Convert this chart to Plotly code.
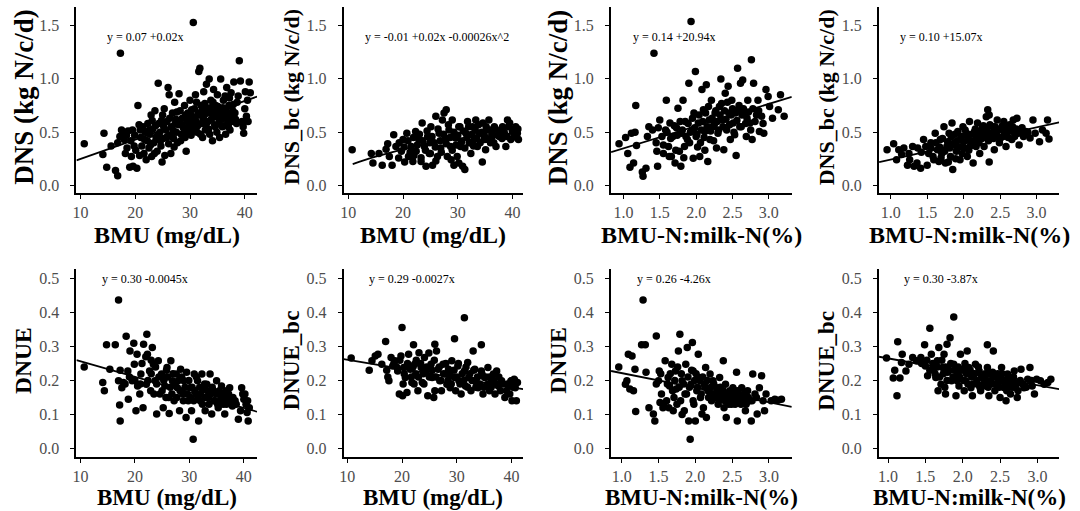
import plotly.graph_objects as go

# ---------------- data ----------------
bmu_dns = [(10.7,0.39),(14.1,0.29),(14.3,0.49),(14.8,0.17),(15.6,0.37),(16.4,0.14),(16.8,0.09),(17.3,1.24),(16.8,0.40),(17.2,0.46),
 (17.5,0.52),(17.8,0.49),(18.0,0.43),(18.2,0.30),(18.5,0.35),(18.7,0.51),(19.0,0.17),(19.3,0.27),(19.6,0.18),(19.8,0.37),(19.9,0.47),(19.5,0.52),
 (20.1,0.33),(20.3,0.16),(20.5,0.75),(20.7,0.57),(20.8,0.28),(21.0,0.45),(21.2,0.37),(21.4,0.55),(21.6,0.30),(21.8,0.50),(22.0,0.24),(22.2,0.42),
 (22.3,0.58),(22.5,0.35),(22.7,0.48),(22.9,0.66),(23.0,0.27),(23.2,0.53),(23.4,0.40),(23.6,0.70),(23.8,0.45),(24.0,0.32),(24.2,0.96),(24.3,0.58),
 (24.5,0.50),(24.7,0.37),(24.9,0.22),(25.0,0.66),(25.1,0.44),(25.3,0.72),(25.4,0.28),(25.6,0.52),(25.8,0.60),(26.0,0.92),(26.1,0.39),(26.2,0.85),
 (26.4,0.47),(26.6,0.55),(26.8,0.68),(27.0,0.44),(27.2,0.78),(27.4,0.62),(27.5,0.50),(27.7,0.40),(27.9,0.57),(28.0,0.86),(28.2,0.70),(28.4,0.48),
 (28.6,0.63),(28.8,0.54),(29.0,0.75),(29.1,0.45),(29.3,0.32),(29.5,0.60),(29.6,0.68),(29.8,0.52),(30.0,0.80),(29.9,0.58),(30.2,0.47),(30.4,0.65),
 (30.6,1.53),(30.7,0.55),(30.8,0.72),(31.0,0.85),(31.1,0.60),(31.3,0.50),(31.5,0.68),(31.6,1.07),(31.8,1.10),(32.0,0.75),(32.1,0.58),(32.3,0.45),
 (32.5,0.88),(32.6,0.66),(32.8,0.52),(33.0,0.95),(33.1,0.72),(33.3,0.60),(33.5,1.00),(33.6,0.48),(33.8,0.80),(34.0,0.68),(34.1,0.42),(34.3,0.90),
 (34.5,0.57),(34.7,0.75),(34.9,0.50),(35.0,0.85),(35.2,0.63),(35.4,0.45),(35.6,1.00),(35.7,0.72),(35.9,0.55),(36.1,0.80),(36.3,0.66),(36.5,0.48),
 (36.7,0.92),(36.9,0.60),(37.1,0.75),(37.3,0.52),(37.5,0.87),(37.8,0.70),(38.0,0.97),(38.3,0.62),(38.6,0.78),(39.0,1.17),(39.2,0.98),(39.5,0.60),
 (39.7,0.55),(39.8,0.49),(40.0,0.72),(40.1,0.88),(40.3,0.65),(40.5,0.80),(40.8,0.97),(41.0,0.87),(40.6,0.60),
 (22.6,0.52),(23.1,0.61),(23.7,0.56),(24.1,0.47),(24.8,0.61),(25.2,0.55),(25.7,0.45),(26.3,0.63),(26.9,0.52),(27.3,0.58),(27.6,0.69),(28.1,0.61),
 (28.5,0.57),(28.9,0.49),(29.2,0.66),(29.7,0.55),(30.1,0.62),(30.3,0.71),(30.5,0.52),(30.9,0.63),(31.2,0.78),(31.4,0.56),(31.7,0.66),(31.9,0.48),
 (32.2,0.70),(32.4,0.62),(32.7,0.77),(32.9,0.57),(33.2,0.68),(33.4,0.53),(33.7,0.73),(33.9,0.62),(34.2,0.78),(34.4,0.65),(34.6,0.55),(34.8,0.70),
 (35.1,0.74),(35.3,0.58),(35.5,0.68),(35.8,0.62),(36.0,0.73),(36.2,0.56),(36.4,0.84),(36.6,0.70),(36.8,0.64),(37.0,0.55),(37.2,0.82),(37.4,0.66),
 (37.6,0.60),(37.9,0.76),(38.2,0.68),(38.5,0.58),(38.8,0.84),(29.4,0.50),(28.3,0.42),(27.1,0.36),(26.5,0.30),(25.9,0.46),(24.6,0.42),(23.5,0.30),
 (22.8,0.38),(21.7,0.43),(20.9,0.52),(19.2,0.42),(18.4,0.47)]

bmu_dnsbc = [(10.7,0.335),(14.2,0.30),(14.5,0.21),(15.6,0.30),(16.2,0.19),(16.9,0.34),(17.2,0.39),(17.5,0.27),(18.0,0.19),(18.3,0.475),
 (18.7,0.365),(19.2,0.256),(19.7,0.32),(20.0,0.43),(20.3,0.22),(20.7,0.49),(21.0,0.27),(21.5,0.365),(21.8,0.225),(22.3,0.505),(22.4,0.32),
 (22.9,0.43),(23.3,0.225),(23.5,0.585),(23.9,0.365),(24.2,0.18),(24.5,0.46),(24.8,0.30),(25.1,0.55),(25.4,0.19),(25.7,0.40),(26.0,0.65),
 (26.3,0.27),(26.6,0.49),(26.9,0.35),(27.2,0.615),(27.5,0.68),(27.7,0.43),(27.9,0.71),(28.1,0.27),(28.4,0.52),(28.7,0.365),(29.0,0.615),
 (29.3,0.19),(29.6,0.445),(29.9,0.27),(30.2,0.55),(30.5,0.365),(30.9,0.18),(31.3,0.15),(31.5,0.49),(31.8,0.60),(32.1,0.40),(32.4,0.30),
 (32.7,0.55),(33.0,0.43),(33.3,0.615),(33.6,0.365),(33.9,0.49),(34.5,0.22),(34.6,0.585),(34.9,0.43),(35.1,0.335),(35.4,0.52),(35.7,0.615),
 (36.0,0.40),(36.3,0.49),(36.7,0.55),(37.0,0.365),(37.6,0.46),(38.2,0.55),(38.8,0.365),(39.1,0.615),(39.5,0.585),(39.7,0.43),(40.0,0.505),
 (40.3,0.46),(40.6,0.55),(40.9,0.49),(41.1,0.43),
 (19.3,0.40),(20.2,0.36),(20.9,0.42),(21.3,0.31),(21.9,0.45),(22.6,0.38),(23.0,0.48),(23.6,0.42),(24.1,0.33),(24.4,0.51),(24.9,0.40),(25.3,0.46),
 (25.9,0.36),(26.4,0.53),(26.8,0.42),(27.0,0.31),(27.4,0.48),(27.9,0.39),(28.3,0.57),(28.6,0.45),(29.0,0.33),(29.3,0.50),(29.7,0.38),(30.0,0.47),
 (30.4,0.55),(30.7,0.41),(31.0,0.51),(31.3,0.35),(31.7,0.45),(32.0,0.55),(32.3,0.40),(32.6,0.48),(32.9,0.37),(33.2,0.52),(33.5,0.44),(33.8,0.57),
 (34.1,0.40),(34.4,0.50),(34.8,0.47),(35.2,0.55),(35.5,0.43),(35.9,0.52),(36.2,0.45),(36.6,0.40),(36.9,0.53),(37.3,0.47),(37.8,0.51),(38.1,0.44),
 (38.5,0.50),(39.0,0.46),(39.3,0.55),(40.2,0.52),(40.8,0.45),(41.0,0.53),(23.3,0.26),(26.0,0.23),(28.8,0.24),(30.2,0.21),(25.0,0.30),(22.0,0.28)]

ratio_dns = [(0.94,0.39),(1.03,0.45),(1.06,0.30),(1.09,0.17),(1.11,0.49),(1.14,0.21),(1.16,0.50),(1.17,0.75),(1.18,0.375),(1.26,0.125),
 (1.27,0.085),(1.31,0.16),(1.33,0.46),(1.35,0.55),(1.42,1.24),(1.46,0.32),(1.47,0.18),(1.48,0.54),(1.50,0.615),(1.53,0.46),(1.55,0.38),
 (1.58,0.52),(1.59,0.80),(1.62,0.365),(1.64,0.585),(1.66,0.27),(1.68,0.46),(1.71,0.21),(1.73,0.54),(1.75,0.725),(1.77,0.32),(1.79,0.18),
 (1.80,0.49),(1.82,0.80),(1.84,0.365),(1.85,0.60),(1.88,0.43),(1.90,0.96),(1.93,1.54),(1.94,0.52),(1.96,0.255),(1.97,0.68),(1.99,1.07),
 (2.00,0.46),(2.03,0.585),(2.05,0.27),(2.06,0.40),(2.08,0.90),(2.10,0.71),(2.12,0.505),(2.14,0.945),(2.16,0.225),(2.18,0.615),(2.19,0.43),
 (2.21,0.80),(2.23,0.55),(2.26,0.68),(2.28,0.35),(2.30,0.49),(2.32,0.74),(2.34,1.00),(2.36,0.615),(2.38,0.335),(2.40,0.865),(2.42,0.52),
 (2.44,0.93),(2.45,0.68),(2.47,0.43),(2.49,0.80),(2.51,0.585),(2.53,0.475),(2.55,0.28),(2.57,1.10),(2.58,0.71),(2.61,0.96),(2.62,0.55),
 (2.64,0.99),(2.67,0.68),(2.69,0.46),(2.71,0.80),(2.74,0.585),(2.76,1.18),(2.77,0.43),(2.79,0.96),(2.83,0.66),(2.85,0.80),(2.87,0.505),
 (2.90,0.65),(2.93,0.49),(2.96,0.90),(2.99,0.835),(3.01,0.74),(3.05,0.63),(3.13,0.71),(3.16,0.85),(3.21,0.65),
 (1.60,0.50),(1.65,0.44),(1.70,0.56),(1.74,0.47),(1.78,0.60),(1.81,0.52),(1.86,0.46),(1.89,0.58),(1.92,0.50),(1.95,0.63),(1.98,0.54),(2.01,0.48),
 (2.04,0.66),(2.07,0.52),(2.09,0.60),(2.11,0.45),(2.13,0.68),(2.15,0.55),(2.17,0.74),(2.20,0.51),(2.22,0.63),(2.25,0.57),(2.27,0.70),(2.29,0.60),
 (2.31,0.52),(2.33,0.66),(2.35,0.77),(2.37,0.55),(2.39,0.70),(2.41,0.62),(2.43,0.78),(2.46,0.57),(2.48,0.66),(2.50,0.72),(2.52,0.50),(2.54,0.68),
 (2.56,0.61),(2.59,0.75),(2.60,0.55),(2.63,0.66),(2.65,0.72),(2.68,0.58),(2.70,0.63),(2.72,0.69),(2.75,0.52),(2.78,0.72),(2.81,0.60),(2.86,0.70),
 (2.92,0.58),(1.55,0.30),(1.63,0.27),(1.72,0.33),(1.83,0.26),(1.91,0.40),(1.45,0.40),(1.40,0.52),(2.02,0.36),(2.24,0.42),(2.12,0.33)]

ratio_dnsbc = [(0.95,0.335),(1.04,0.39),(1.08,0.24),(1.11,0.335),(1.15,0.29),(1.18,0.35),(1.23,0.19),(1.26,0.24),(1.30,0.365),(1.32,0.18),
 (1.36,0.21),(1.41,0.16),(1.45,0.43),(1.48,0.365),(1.50,0.19),(1.52,0.30),(1.55,0.40),(1.58,0.27),(1.61,0.49),(1.64,0.335),(1.66,0.225),
 (1.68,0.43),(1.70,0.30),(1.73,0.55),(1.75,0.21),(1.77,0.365),(1.80,0.49),(1.82,0.27),(1.84,0.585),(1.85,0.15),(1.87,0.40),(1.90,0.32),
 (1.92,0.505),(1.95,0.24),(1.96,0.43),(1.99,0.55),(2.01,0.35),(2.04,0.49),(2.05,0.27),(2.08,0.60),(2.10,0.40),(2.13,0.21),(2.15,0.505),
 (2.17,0.365),(2.19,0.585),(2.22,0.30),(2.24,0.46),(2.26,0.55),(2.28,0.365),(2.31,0.645),(2.33,0.71),(2.35,0.22),(2.35,0.66),(2.37,0.46),
 (2.40,0.55),(2.42,0.335),(2.45,0.505),(2.46,0.615),(2.49,0.40),(2.51,0.535),(2.54,0.46),(2.55,0.60),(2.58,0.365),(2.60,0.505),(2.63,0.57),
 (2.66,0.43),(2.68,0.615),(2.70,0.49),(2.73,0.63),(2.76,0.38),(2.78,0.52),(2.82,0.46),(2.85,0.505),(2.91,0.445),(2.95,0.615),(2.98,0.49),
 (3.04,0.41),(3.08,0.52),(3.15,0.615),(3.17,0.435),(3.13,0.49),
 (1.62,0.40),(1.67,0.36),(1.71,0.44),(1.74,0.32),(1.78,0.41),(1.81,0.35),(1.83,0.46),(1.86,0.38),(1.88,0.48),(1.91,0.42),(1.93,0.36),(1.97,0.46),
 (2.00,0.41),(2.02,0.52),(2.06,0.44),(2.09,0.37),(2.11,0.48),(2.14,0.42),(2.16,0.53),(2.18,0.46),(2.21,0.40),(2.23,0.51),(2.25,0.44),(2.27,0.56),
 (2.29,0.47),(2.32,0.52),(2.34,0.42),(2.36,0.57),(2.38,0.49),(2.41,0.44),(2.43,0.55),(2.45,0.47),(2.48,0.52),(2.50,0.44),(2.53,0.56),(2.56,0.49),
 (2.58,0.53),(2.61,0.45),(2.64,0.51),(2.67,0.55),(2.70,0.46),(2.72,0.53),(2.75,0.49),(2.80,0.54),(2.88,0.50),(1.55,0.35),(1.59,0.24),(1.69,0.26),
 (1.79,0.22),(1.89,0.25),(1.98,0.30),(2.07,0.33),(1.42,0.31),(1.37,0.35),(1.25,0.30)]

bmu_dnue = [(10.7,0.24),(14.1,0.194),(14.4,0.17),(14.8,0.305),(15.4,0.233),(16.4,0.305),(17.0,0.437),(17.0,0.199),(17.2,0.128),(17.3,0.081),
 (17.3,0.23),(17.6,0.179),(17.9,0.194),(18.4,0.33),(18.7,0.228),(18.8,0.145),(19.1,0.287),(19.5,0.199),(19.8,0.31),(19.9,0.248),(20.2,0.111),
 (20.4,0.277),(20.5,0.184),(20.9,0.16),(21.1,0.219),(21.5,0.12),(21.6,0.307),(22.2,0.336),(22.1,0.189),(22.3,0.277),(22.7,0.228),(22.9,0.17),
 (23.2,0.297),(23.4,0.248),(23.7,0.199),(24.0,0.101),(24.3,0.258),(24.6,0.16),(24.9,0.219),(25.2,0.12),(25.5,0.184),(25.9,0.238),(26.2,0.15),
 (26.3,0.103),(26.6,0.258),(26.9,0.199),(27.2,0.14),(27.6,0.219),(27.8,0.179),(28.2,0.111),(28.4,0.233),(28.8,0.16),(29.0,0.199),(29.4,0.091),
 (29.5,0.224),(29.8,0.14),(30.1,0.179),(30.4,0.111),(30.7,0.027),(30.9,0.219),(31.2,0.16),(31.5,0.199),(31.7,0.081),(32.0,0.14),(32.3,0.219),
 (32.6,0.175),(32.9,0.111),(33.2,0.189),(33.5,0.15),(33.8,0.219),(34.1,0.101),(34.4,0.17),(34.7,0.14),(35.0,0.199),(35.3,0.12),(35.6,0.16),
 (35.9,0.184),(36.2,0.13),(36.5,0.101),(36.8,0.17),(37.1,0.15),(37.4,0.179),(37.9,0.125),(38.4,0.14),(39.0,0.086),(39.4,0.111),(39.6,0.179),
 (39.8,0.16),(40.0,0.145),(40.4,0.13),(40.6,0.106),(40.8,0.081),(41.0,0.12),
 (22.4,0.20),(23.0,0.22),(23.5,0.16),(24.0,0.19),(24.4,0.21),(25.0,0.17),(25.3,0.20),(25.7,0.15),(26.0,0.21),(26.5,0.18),(26.8,0.16),(27.0,0.22),
 (27.4,0.19),(27.7,0.15),(28.0,0.20),(28.3,0.17),(28.6,0.21),(28.9,0.14),(29.2,0.18),(29.6,0.16),(29.9,0.20),(30.2,0.15),(30.5,0.18),(30.8,0.14),
 (31.0,0.17),(31.3,0.21),(31.6,0.15),(31.9,0.18),(32.1,0.16),(32.4,0.13),(32.8,0.19),(33.0,0.15),(33.3,0.17),(33.6,0.13),(33.9,0.16),(34.2,0.18),
 (34.5,0.14),(34.9,0.16),(35.2,0.13),(35.5,0.17),(35.8,0.15),(36.1,0.16),(36.4,0.14),(36.8,0.13),(37.2,0.16),(37.6,0.14),(38.0,0.15),(38.6,0.13),
 (40.2,0.16),(40.7,0.14),(23.8,0.24),(25.8,0.23),(21.0,0.19),(20.0,0.20),(19.0,0.21),(18.2,0.19),(21.3,0.25),(22.0,0.27),(23.0,0.26)]

bmu_dnuebc = [(10.7,0.266),(14.0,0.23),(14.5,0.258),(15.1,0.272),(15.6,0.277),(16.3,0.248),(17.0,0.315),(17.2,0.23),(17.4,0.21),(17.6,0.199),
 (18.0,0.268),(18.3,0.243),(18.7,0.258),(19.2,0.228),(19.5,0.16),(19.8,0.272),(20.0,0.356),(20.1,0.155),(20.3,0.238),(20.6,0.209),(20.9,0.165),
 (21.2,0.277),(21.5,0.233),(21.8,0.194),(22.1,0.305),(22.3,0.248),(22.5,0.219),(22.9,0.17),(23.1,0.282),(23.5,0.238),(23.7,0.194),(24.1,0.268),
 (24.3,0.224),(24.7,0.155),(24.9,0.281),(25.3,0.248),(25.5,0.209),(25.8,0.15),(26.0,0.307),(26.3,0.287),(26.6,0.233),(26.9,0.199),(27.2,0.17),
 (27.5,0.248),(27.9,0.219),(28.2,0.189),(28.5,0.233),(28.8,0.179),(29.1,0.258),(29.6,0.323),(29.6,0.209),(29.8,0.17),(30.2,0.243),(30.4,0.199),
 (30.8,0.16),(31.4,0.385),(31.4,0.228),(31.6,0.184),(32.0,0.253),(32.2,0.209),(32.6,0.17),(33.0,0.287),(33.3,0.233),(33.6,0.194),(33.9,0.179),
 (34.5,0.305),(34.5,0.228),(34.8,0.16),(35.1,0.209),(35.4,0.184),(35.7,0.238),(36.0,0.17),(36.4,0.199),(36.7,0.219),(37.0,0.16),(37.3,0.228),
 (37.6,0.184),(38.2,0.199),(38.8,0.15),(39.1,0.17),(39.5,0.184),(39.9,0.199),(40.1,0.14),(40.5,0.204),(40.7,0.179),(40.9,0.14),(41.1,0.194),
 (18.5,0.25),(19.0,0.24),(19.6,0.26),(20.4,0.22),(21.0,0.25),(21.7,0.21),(22.0,0.24),(22.6,0.26),(23.0,0.21),(23.4,0.25),(23.9,0.22),(24.5,0.24),
 (25.0,0.21),(25.5,0.23),(25.9,0.26),(26.2,0.21),(26.8,0.24),(27.1,0.20),(27.6,0.22),(28.0,0.25),(28.4,0.20),(28.7,0.22),(29.0,0.19),(29.5,0.23),
 (30.0,0.21),(30.3,0.25),(30.6,0.19),(31.0,0.22),(31.3,0.20),(31.7,0.24),(32.0,0.18),(32.4,0.22),(32.8,0.20),(33.1,0.23),(33.5,0.18),(33.8,0.21),
 (34.2,0.19),(34.6,0.22),(35.0,0.18),(35.3,0.21),(35.7,0.19),(36.0,0.21),(36.3,0.18),(36.8,0.20),(37.2,0.19),(37.7,0.21),(38.0,0.17),(38.5,0.19),
 (39.3,0.19),(40.3,0.18),(40.6,0.20),(39.7,0.16),(26.0,0.17),(24.0,0.19),(22.2,0.19),(20.2,0.19)]

ratio_dnue = [(0.96,0.24),(1.05,0.189),(1.07,0.199),(1.09,0.277),(1.11,0.175),(1.14,0.272),(1.16,0.17),(1.18,0.233),(1.19,0.109),(1.27,0.305),
 (1.29,0.437),(1.32,0.305),(1.33,0.224),(1.37,0.12),(1.43,0.101),(1.45,0.081),(1.47,0.331),(1.50,0.199),(1.51,0.228),(1.52,0.135),(1.54,0.16),
 (1.56,0.12),(1.59,0.258),(1.61,0.14),(1.63,0.209),(1.65,0.184),(1.68,0.248),(1.70,0.111),(1.71,0.15),(1.73,0.228),(1.74,0.175),(1.77,0.287),
 (1.79,0.336),(1.80,0.14),(1.82,0.199),(1.85,0.111),(1.87,0.248),(1.88,0.16),(1.89,0.297),(1.91,0.081),(1.93,0.027),(1.94,0.189),(1.96,0.312),
 (1.97,0.228),(1.98,0.13),(2.00,0.081),(2.02,0.17),(2.04,0.277),(2.05,0.209),(2.07,0.15),(2.09,0.101),(2.12,0.189),(2.14,0.238),(2.15,0.091),
 (2.17,0.17),(2.20,0.219),(2.22,0.14),(2.24,0.199),(2.26,0.16),(2.29,0.179),(2.31,0.13),(2.33,0.209),(2.35,0.16),(2.38,0.258),(2.39,0.12),
 (2.41,0.189),(2.42,0.091),(2.44,0.15),(2.47,0.17),(2.49,0.13),(2.51,0.179),(2.53,0.14),(2.56,0.224),(2.57,0.081),(2.59,0.16),(2.62,0.13),
 (2.63,0.179),(2.66,0.15),(2.68,0.111),(2.71,0.17),(2.74,0.14),(2.76,0.081),(2.78,0.219),(2.81,0.16),(2.84,0.101),(2.87,0.179),(2.90,0.214),
 (2.92,0.14),(2.94,0.111),(2.96,0.16),(3.03,0.14),(3.08,0.145),(3.12,0.142),(3.17,0.145),
 (1.62,0.19),(1.66,0.22),(1.69,0.17),(1.72,0.20),(1.76,0.24),(1.78,0.18),(1.81,0.22),(1.84,0.19),(1.86,0.16),(1.90,0.21),(1.92,0.18),(1.95,0.23),
 (1.99,0.20),(2.01,0.22),(2.03,0.18),(2.06,0.20),(2.08,0.16),(2.10,0.21),(2.13,0.18),(2.16,0.20),(2.18,0.15),(2.21,0.18),(2.23,0.16),(2.25,0.19),
 (2.28,0.15),(2.30,0.17),(2.32,0.14),(2.34,0.18),(2.36,0.15),(2.38,0.17),(2.40,0.14),(2.43,0.16),(2.45,0.13),(2.46,0.15),(2.48,0.16),(2.50,0.14),
 (2.52,0.16),(2.54,0.13),(2.55,0.15),(2.57,0.17),(2.58,0.14),(2.61,0.15),(2.64,0.14),(2.66,0.16),(2.69,0.13),(2.72,0.15),(2.77,0.14),(2.83,0.15),
 (1.47,0.19),(1.53,0.22),(1.57,0.13),(1.64,0.12),(1.75,0.13),(1.82,0.10),(1.97,0.14),(2.11,0.12)]

ratio_dnuebc = [(0.98,0.266),(1.07,0.207),(1.09,0.23),(1.12,0.155),(1.13,0.314),(1.16,0.207),(1.18,0.253),(1.19,0.277),(1.24,0.228),(1.28,0.248),
 (1.33,0.268),(1.38,0.258),(1.44,0.268),(1.49,0.305),(1.50,0.243),(1.53,0.214),(1.56,0.354),(1.58,0.277),(1.61,0.233),(1.64,0.209),(1.66,0.258),
 (1.68,0.297),(1.71,0.189),(1.73,0.238),(1.75,0.277),(1.77,0.16),(1.79,0.307),(1.80,0.224),(1.83,0.326),(1.85,0.199),(1.88,0.387),(1.88,0.248),
 (1.91,0.155),(1.93,0.219),(1.95,0.184),(1.97,0.277),(2.00,0.233),(2.02,0.17),(2.04,0.199),(2.06,0.287),(2.08,0.238),(2.11,0.179),(2.13,0.155),
 (2.15,0.219),(2.17,0.248),(2.20,0.189),(2.22,0.228),(2.24,0.17),(2.26,0.209),(2.33,0.305),(2.31,0.184),(2.33,0.238),(2.35,0.155),(2.37,0.199),
 (2.40,0.224),(2.41,0.287),(2.43,0.17),(2.46,0.209),(2.47,0.184),(2.50,0.15),(2.52,0.238),(2.54,0.199),(2.56,0.179),(2.58,0.14),(2.60,0.219),
 (2.62,0.189),(2.64,0.16),(2.67,0.204),(2.69,0.228),(2.71,0.179),(2.73,0.15),(2.75,0.194),(2.78,0.233),(2.82,0.179),(2.87,0.204),(2.90,0.238),
 (2.93,0.184),(2.96,0.16),(2.99,0.204),(3.04,0.199),(3.09,0.189),(3.14,0.194),(3.18,0.204),
 (1.60,0.25),(1.63,0.22),(1.66,0.24),(1.69,0.21),(1.72,0.26),(1.74,0.22),(1.77,0.24),(1.79,0.20),(1.82,0.23),(1.84,0.25),(1.87,0.21),(1.89,0.23),
 (1.92,0.20),(1.94,0.24),(1.96,0.21),(1.99,0.23),(2.01,0.20),(2.03,0.25),(2.05,0.22),(2.07,0.19),(2.10,0.23),(2.12,0.21),(2.14,0.19),(2.16,0.22),
 (2.19,0.20),(2.21,0.24),(2.23,0.18),(2.25,0.21),(2.28,0.19),(2.30,0.22),(2.32,0.20),(2.34,0.18),(2.36,0.22),(2.39,0.19),(2.42,0.21),(2.44,0.19),
 (2.47,0.22),(2.49,0.18),(2.51,0.20),(2.53,0.22),(2.55,0.18),(2.57,0.20),(2.59,0.17),(2.61,0.21),(2.63,0.19),(2.66,0.18),(2.68,0.21),(2.70,0.19),
 (2.74,0.17),(2.77,0.20),(2.80,0.19),(2.85,0.18),(2.92,0.20),(1.45,0.25),(1.52,0.26),(1.56,0.23),(1.67,0.17),(1.76,0.18)]

# fitted lines
fit_bmu_dns_x, fit_bmu_dns_y = [9.27, 42.24], [0.234, 0.834]
fit_bmu_dnsbc_x = [10.8, 15, 20, 25, 30, 35, 41]
fit_bmu_dnsbc_y = [0.200, 0.269, 0.339, 0.396, 0.439, 0.470, 0.490]
fit_ratio_dns_x, fit_ratio_dns_y = [0.83, 3.315], [0.3125, 0.831]
fit_ratio_dnsbc_x, fit_ratio_dnsbc_y = [0.84, 3.308], [0.219, 0.591]
fit_bmu_dnue_x, fit_bmu_dnue_y = [9.27, 42.43], [0.260, 0.108]
fit_bmu_dnuebc_x, fit_bmu_dnuebc_y = [9.34, 42.13], [0.263, 0.1745]
fit_ratio_dnue_x, fit_ratio_dnue_y = [0.855, 3.31], [0.228, 0.1225]
fit_ratio_dnuebc_x, fit_ratio_dnuebc_y = [0.88, 3.29], [0.270, 0.1745]

equations = ["y = 0.07 +0.02x", "y = -0.01 +0.02x -0.00026x^2", "y = 0.14 +20.94x", "y = 0.10 +15.07x",
             "y = 0.30 -0.0045x", "y = 0.29 -0.0027x", "y = 0.26 -4.26x", "y = 0.30 -3.87x"]
x_titles = ["BMU (mg/dL)", "BMU (mg/dL)", "BMU-N:milk-N(%)", "BMU-N:milk-N(%)"]
y_titles = ["DNS (kg N/c/d)", "DNS_bc (kg N/c/d)", "DNS (kg N/c/d)", "DNS_bc (kg N/c/d)",
            "DNUE", "DNUE_bc", "DNUE", "DNUE_bc"]
bmu_ticks = [10, 20, 30, 40]
ratio_ticks = [1.0, 1.5, 2.0, 2.5, 3.0]
dns_ticks = [0.0, 0.5, 1.0, 1.5]
dnue_ticks = [0.0, 0.1, 0.2, 0.3, 0.4, 0.5]

# ---------------- layout geometry ----------------
W, H = 1080, 511
col_px = [(72.7, 254.0), (341.0, 521.0), (609.3, 790.7), (878.3, 1059.0)]
row_px = [(6.7, 193.8), (270.0, 458.2)]
xranges = [[9.27, 42.24], [9.16, 41.95], [0.83, 3.315], [0.84, 3.308],
           [9.27, 42.43], [9.34, 42.13], [0.855, 3.31], [0.88, 3.29]]
yranges = [[-0.0756, 1.678]] * 4 + [[-0.0262, 0.527]] * 4
eq_px = [(101.7, 36.7), (360.0, 37.3), (629.3, 36.7), (897.3, 36.7),
         (96.7, 280.0), (364.0, 280.0), (633.3, 280.0), (901.7, 280.0)]
ytitle_size = [27, 22, 27, 22, 23.5, 23, 23.5, 23]
xtitle_y = [235, 498.5]
xtitle_size = [24, 23]

panels = [
    (bmu_dns, fit_bmu_dns_x, fit_bmu_dns_y),
    (bmu_dnsbc, fit_bmu_dnsbc_x, fit_bmu_dnsbc_y),
    (ratio_dns, fit_ratio_dns_x, fit_ratio_dns_y),
    (ratio_dnsbc, fit_ratio_dnsbc_x, fit_ratio_dnsbc_y),
    (bmu_dnue, fit_bmu_dnue_x, fit_bmu_dnue_y),
    (bmu_dnuebc, fit_bmu_dnuebc_x, fit_bmu_dnuebc_y),
    (ratio_dnue, fit_ratio_dnue_x, fit_ratio_dnue_y),
    (ratio_dnuebc, fit_ratio_dnuebc_x, fit_ratio_dnuebc_y),
]

SERIF = "Liberation Serif, Times New Roman, serif"
fig = go.Figure()
annotations = []
layout_axes = {}

for i, (pts, lx, ly) in enumerate(panels):
    r, c = divmod(i, 4)
    n = i + 1
    xa = "x" if n == 1 else f"x{n}"
    ya = "y" if n == 1 else f"y{n}"
    xs = [p[0] for p in pts]
    ys = [p[1] for p in pts]
    fig.add_trace(go.Scatter(x=xs, y=ys, mode="markers", xaxis=xa, yaxis=ya,
                             marker=dict(color="black", size=7.5, line=dict(width=0)),
                             showlegend=False, cliponaxis=False))
    fig.add_trace(go.Scatter(x=lx, y=ly, mode="lines", xaxis=xa, yaxis=ya,
                             line=dict(color="black", width=1.8, shape="spline"),
                             showlegend=False))
    x0, x1 = col_px[c]
    y0, y1 = row_px[r]
    common = dict(showline=True, linecolor="black", linewidth=2, ticks="outside",
                  ticklen=4, tickwidth=1.2, tickcolor="black", showgrid=False, zeroline=False,
                  tickfont=dict(family=SERIF, size=16, color="#4d4d4d"))
    layout_axes["xaxis" if n == 1 else f"xaxis{n}"] = dict(
        domain=[x0 / W, x1 / W], anchor=ya, range=xranges[i],
        tickvals=bmu_ticks if c < 2 else ratio_ticks,
        tickformat="d" if c < 2 else ".1f", ticklabelstandoff=-1, **common)
    layout_axes["yaxis" if n == 1 else f"yaxis{n}"] = dict(
        domain=[1 - y1 / H, 1 - y0 / H], anchor=xa, range=yranges[i],
        tickvals=dns_ticks if r == 0 else dnue_ticks,
        tickformat=".1f", ticklabelstandoff=8, **common)
    ex, ey = eq_px[i]
    annotations.append(dict(text=equations[i], xref="paper", yref="paper",
                            x=ex / W, y=1 - ey / H, xanchor="left", yanchor="middle",
                            showarrow=False, font=dict(family=SERIF, size=12, color="black")))
    annotations.append(dict(text="<b>" + y_titles[i] + "</b>", xref="paper", yref="paper",
                            x=(x0 - 53) / W, y=1 - ((y0 + y1) / 2 - 3) / H, textangle=-90,
                            xanchor="center", yanchor="middle", showarrow=False,
                            font=dict(family=SERIF, size=ytitle_size[i], color="black")))
    annotations.append(dict(text="<b>" + x_titles[c] + "</b>", xref="paper", yref="paper",
                            x=(x0 + x1) / 2 / W, y=1 - xtitle_y[r] / H,
                            xanchor="center", yanchor="middle", showarrow=False,
                            font=dict(family=SERIF, size=xtitle_size[r], color="black")))

fig.update_layout(width=W, height=H, margin=dict(l=0, r=0, t=0, b=0),
                  paper_bgcolor="white", plot_bgcolor="white",
                  annotations=annotations, **layout_axes)
fig.write_html("out.html", config={"displayModeBar": False},
               post_script="document.body.style.margin='0';")
